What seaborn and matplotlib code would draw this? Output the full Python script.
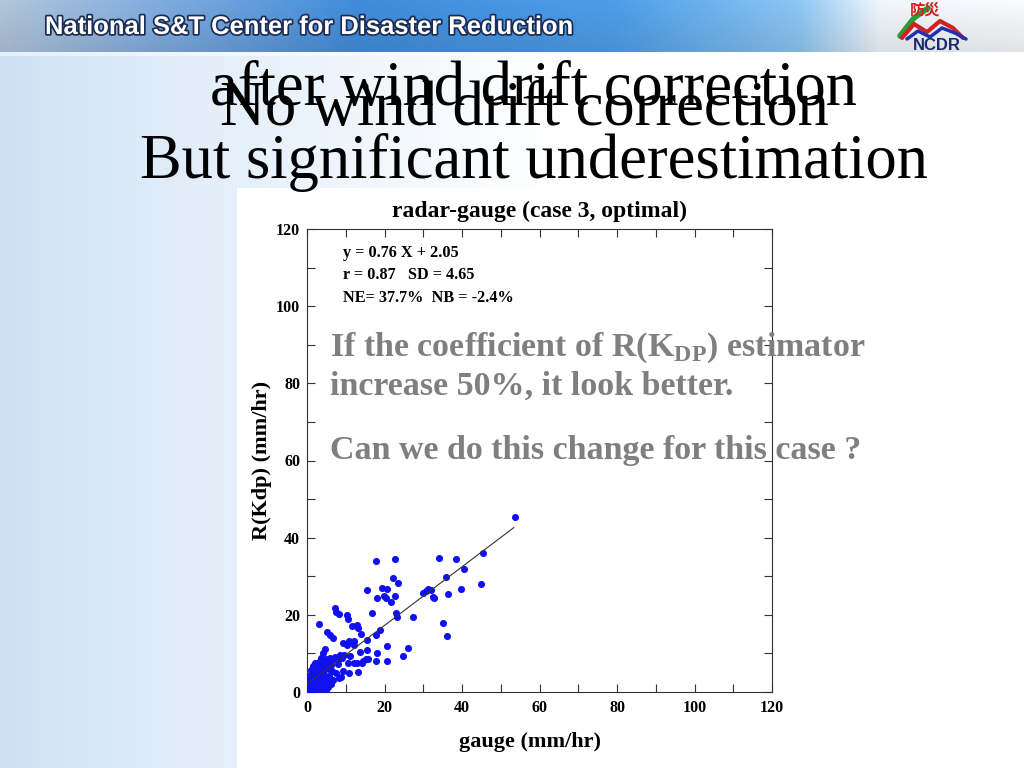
import numpy as np
import pandas as pd
import seaborn as sns
import matplotlib
matplotlib.use("Agg")
import matplotlib.pyplot as plt
import matplotlib.patheffects as pe
from matplotlib.ticker import MultipleLocator

# gauge (mm/hr) vs R(Kdp) (mm/hr)
gauge = [53.7, 45.5, 44.9, 40.6, 39.7, 38.4, 34.1, 35.9, 36.4, 35.2, 36.2, 29.9, 30.7, 31.3,
         31.9, 32.4, 32.9, 27.4, 26.1, 24.9, 23.3, 23.0, 17.8, 22.6, 22.3, 23.4, 22.8, 21.8,
         15.4, 19.3, 20.7, 19.9, 20.5, 18.1, 18.8, 17.8, 18.1, 17.8, 20.7, 20.7, 16.7, 15.4,
         15.4, 15.2, 15.8, 14.5, 14.1, 13.7, 13.9, 13.2, 13.0, 11.5, 12.0, 12.0, 10.9, 10.4,
         10.7, 9.4, 10.4, 11.1, 10.7, 12.0, 12.8, 10.9, 13.2, 7.1, 7.5, 8.2, 5.1, 5.9, 6.6,
         3.2, 4.6, 4.2,
         8.5, 9.0, 9.6, 8.0, 7.3, 6.8, 7.9, 9.3, 8.7, 7.5, 8.2,
         6.0, 5.5, 4.8, 4.0, 3.5, 3.0, 2.6, 3.3, 4.2, 5.0, 6.3, 5.8, 4.5, 3.8, 2.8, 2.2, 1.8,
         2.4, 3.1, 4.3, 5.6, 6.5, 6.8, 5.2, 4.0, 3.5, 2.6, 1.9, 1.4, 1.2, 1.6, 2.2, 3.0, 4.3,
         5.5, 1.0, 0.8, 0.6, 1.3, 2.0, 0.4, 0.3, 0.9, 0.5, 1.1, 1.5, 2.0, 0.7, 3.8, 2.8, 1.7,
         0.2, 6.2, 4.8]
radar = [45.3, 35.9, 27.9, 32.0, 26.6, 34.6, 34.8, 29.9, 25.4, 17.8, 14.6, 25.7, 26.2, 26.8,
         26.4, 24.7, 24.3, 19.4, 11.5, 9.4, 19.5, 20.5, 33.9, 34.4, 29.5, 28.2, 25.0, 23.4,
         26.4, 26.9, 26.7, 24.9, 24.3, 24.3, 16.1, 14.8, 10.0, 8.0, 12.0, 8.1, 20.4, 13.6,
         10.9, 8.5, 8.5, 8.0, 7.6, 10.4, 15.0, 16.5, 17.4, 17.1, 13.3, 12.3, 13.2, 19.9,
         18.9, 12.6, 12.2, 9.3, 7.4, 7.4, 7.4, 4.8, 5.3, 21.8, 20.8, 20.2, 15.5, 14.9, 14.1,
         17.5, 11.1, 10.0,
         9.5, 8.7, 9.6, 8.2, 9.0, 8.5, 7.2, 5.5, 4.0, 5.0, 3.5,
         8.8, 8.0, 8.6, 8.2, 8.8, 7.8, 7.2, 6.5, 6.8, 7.3, 7.0, 6.0, 5.6, 5.2, 5.8, 6.3, 5.0,
         4.4, 4.0, 4.5, 4.2, 5.5, 3.2, 2.8, 3.0, 2.2, 2.8, 3.4, 4.0, 2.6, 1.8, 1.4, 1.6, 1.4,
         1.2, 1.0, 2.0, 0.6, 0.4, 0.8, 1.4, 0.3, 3.2, 2.5, 5.8, 6.8, 7.5, 4.5, 1.0, 0.5, 0.2,
         0.8, 2.0, 0.5]

slope, intercept = 0.76, 2.05
fit_range = [0, 53.4]

stats_lines = ["y = 0.76 X + 2.05", "r = 0.87   SD = 4.65", "NE= 37.7%  NB = -2.4%"]
note_lines = [r"If the coefficient of R(K$_\mathbf{DP}$) estimator",
              "increase 50%, it look better.",
              "Can we do this change for this case ?"]

df = pd.DataFrame({"gauge": gauge, "radar": radar})

sns.set_style("ticks")
plt.rcParams["font.family"] = ["Liberation Serif", "DejaVu Serif"]
plt.rcParams["mathtext.fontset"] = "custom"
plt.rcParams["mathtext.bf"] = "Liberation Serif:bold"
plt.rcParams["mathtext.rm"] = "Liberation Serif:bold"
plt.rcParams["text.color"] = "black"
plt.rcParams["xtick.labelcolor"] = "black"
plt.rcParams["ytick.labelcolor"] = "black"

W, H = 1024, 768
fig = plt.figure(figsize=(W / 100, H / 100), dpi=100)

def fx(px):
    return px / W

def fy(py):
    return 1 - py / H

# slide background
xs = np.linspace(0, 1, W)[None, :]
t = np.clip(xs * W / 560, 0, 1) ** 0.8
light = np.array([0.80, 0.88, 0.96])
bg = light[None, None, :] * (1 - t[..., None]) + 1.0 * t[..., None]
bg = np.broadcast_to(bg, (H, W, 3)).copy()
# header band
hx = np.linspace(0, 1, W)
stops_x = [0, 0.12, 0.35, 0.6, 0.78, 0.86, 1.0]
stops_c = np.array([[0.70, 0.78, 0.86], [0.55, 0.70, 0.88], [0.25, 0.55, 0.86],
                    [0.30, 0.62, 0.92], [0.55, 0.78, 0.96], [0.95, 0.97, 0.99],
                    [0.98, 0.99, 1.0]])
band = np.stack([np.interp(hx, stops_x, stops_c[:, k]) for k in range(3)], axis=-1)
for r in range(52):
    shade = 1.0 - 0.12 * (r / 52)
    bg[r] = np.clip(band * shade + (1 - shade) * 0.15, 0, 1)
bg[52:56] = bg[52:56] * 0.5 + 0.5
# pasted chart image
bg[188:, 237:805] = 1.0

bax = fig.add_axes([0, 0, 1, 1], zorder=-1)
bax.imshow(bg, aspect="auto", extent=(0, W, H, 0))
bax.set_xlim(0, W)
bax.set_ylim(H, 0)
bax.set_axis_off()

# logo strokes
bax.plot([900, 914, 928], [36, 18, 8], color="#2a9a3a", lw=4, solid_capstyle="round")
bax.plot([902, 914, 927, 940, 953, 963], [38, 24, 32, 21, 28, 38], color="#d02020", lw=3)
bax.plot([907, 918, 930, 942, 955, 966], [39, 31, 37, 28, 33, 39], color="#2030b0", lw=2.5)

# header
fig.text(fx(45), fy(27), "National S&T Center for Disaster Reduction", family="Liberation Sans",
         weight="bold", size=18.4, color="white", va="center", ha="left",
         path_effects=[pe.withStroke(linewidth=2.5, foreground="#1c2d55")])
fig.text(fx(925), fy(11), "防災", family=["Noto Sans CJK TC", "DejaVu Sans"], size=11,
         weight="bold", color="#d42020", ha="center", va="center")
fig.text(fx(937), fy(46), "NCDR", family="Liberation Sans", size=12, weight="black",
         color="#1a2a6a", ha="center", va="center")

# slide titles
fig.text(fx(534), fy(105), "after wind drift correction", size=45, ha="center", va="baseline")
fig.text(fx(524), fy(125), "No wind drift correction", size=45, ha="center", va="baseline")
fig.text(fx(534), fy(178), "But significant underestimation", size=45, ha="center", va="baseline")

# scatter chart
ax = fig.add_axes([fx(307), 76 / H, 465 / W, 463 / H])
sns.scatterplot(data=df, x="gauge", y="radar", ax=ax, color="#1010f0", s=26,
                linewidth=0, legend=False, zorder=3)
ax.plot(fit_range, [slope * v + intercept for v in fit_range], color="#333333", lw=0.8, zorder=4)
ax.set_xlim(0, 120)
ax.set_ylim(0, 120)
ax.xaxis.set_major_locator(MultipleLocator(20))
ax.yaxis.set_major_locator(MultipleLocator(20))
ax.xaxis.set_minor_locator(MultipleLocator(10))
ax.yaxis.set_minor_locator(MultipleLocator(10))
ax.tick_params(which="both", direction="in", top=True, right=True, length=6, width=0.8,
               color="#333333")
ax.tick_params(axis="x", pad=6)
ax.tick_params(axis="y", pad=5)
for lab in ax.get_xticklabels() + ax.get_yticklabels():
    lab.set_fontweight("bold")
    lab.set_fontsize(11.5)
for sp in ax.spines.values():
    sp.set_linewidth(0.8)
    sp.set_color("#333333")
ax.set_xlabel("")
ax.set_ylabel("")
ax.set_facecolor("none")

fig.text(fx(539), fy(211), "radar-gauge (case 3, optimal)", size=17, weight="bold",
         ha="center", va="center")
fig.text(fx(530), fy(742), "gauge (mm/hr)", size=16, weight="bold", ha="center", va="center")
fig.text(fx(262), fy(460), "R(Kdp) (mm/hr)", size=16, weight="bold", ha="center", va="center",
         rotation=90)
for i, line in enumerate(stats_lines):
    fig.text(fx(343), fy(253 + 22.5 * i), line, size=11.7, weight="bold", ha="left", va="center")

note_y = [348, 386, 450]
for line, py in zip(note_lines, note_y):
    fig.text(fx(330), fy(py), line, size=24.5, weight="bold", color="#7f7f7f",
             ha="left", va="center")

fig.savefig("out.png", dpi=100)
